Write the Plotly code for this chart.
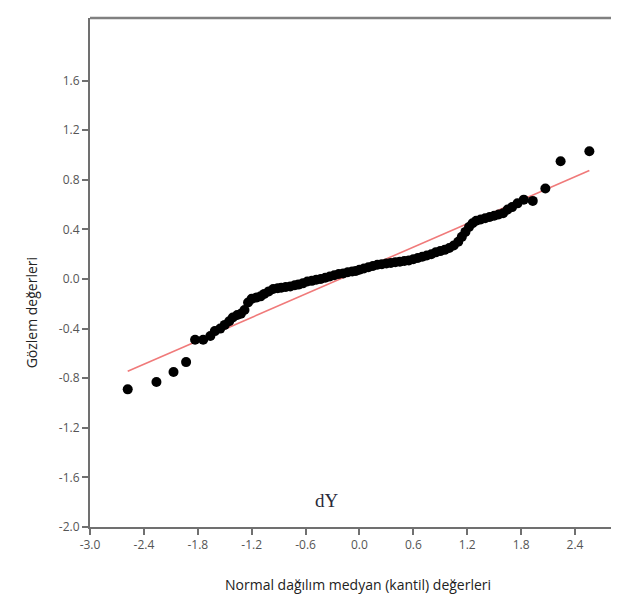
import plotly.graph_objects as go

# Probability plot of dY: normal median quantiles (x) vs observed values (y)
quantiles = [-2.58, -2.26, -2.07, -1.93, -1.83, -1.74, -1.66, -1.61, -1.55, -1.50,
             -1.45, -1.41, -1.36, -1.32, -1.28, -1.24, -1.20, -1.15, -1.10, -1.06,
             -1.01, -0.96, -0.91, -0.87, -0.82, -0.77, -0.72, -0.68, -0.63, -0.58,
             -0.53, -0.48, -0.43, -0.38, -0.33, -0.28, -0.23, -0.18, -0.13, -0.08,
             -0.04, 0.00, 0.05, 0.10, 0.15, 0.20, 0.25, 0.30, 0.35, 0.40,
             0.45, 0.50, 0.55, 0.60, 0.65, 0.70, 0.75, 0.80, 0.85, 0.90,
             0.95, 1.00, 1.05, 1.10, 1.14, 1.18, 1.22, 1.26, 1.30, 1.35,
             1.40, 1.45, 1.50, 1.55, 1.60, 1.65, 1.70, 1.76, 1.83, 1.93,
             2.07, 2.24, 2.56]
observed = [-0.89, -0.83, -0.75, -0.67, -0.49, -0.49, -0.46, -0.42, -0.40, -0.37,
            -0.34, -0.31, -0.29, -0.28, -0.25, -0.19, -0.16, -0.15, -0.14, -0.12,
            -0.10, -0.08, -0.075, -0.07, -0.065, -0.06, -0.05, -0.045, -0.035, -0.02,
            -0.015, -0.005, 0.00, 0.01, 0.02, 0.03, 0.04, 0.045, 0.055, 0.06,
            0.065, 0.075, 0.085, 0.095, 0.105, 0.115, 0.12, 0.125, 0.13, 0.135,
            0.14, 0.145, 0.15, 0.16, 0.17, 0.18, 0.19, 0.20, 0.215, 0.225,
            0.235, 0.25, 0.27, 0.30, 0.34, 0.38, 0.42, 0.45, 0.47, 0.48,
            0.49, 0.50, 0.51, 0.52, 0.53, 0.56, 0.58, 0.61, 0.64, 0.63,
            0.73, 0.95, 1.03]

# Fitted reference line parameters and its extent
fit_intercept = 0.068
fit_slope = 0.315
fit_x_extent = [-2.58, 2.56]

x_ticks = [-3.0, -2.4, -1.8, -1.2, -0.6, 0.0, 0.6, 1.2, 1.8, 2.4]
x_tick_labels = ["-3.0", "-2.4", "-1.8", "-1.2", "-0.6", "0.0", "0.6", "1.2", "1.8", "2.4"]
y_ticks = [-2.0, -1.6, -1.2, -0.8, -0.4, 0.0, 0.4, 0.8, 1.2, 1.6]
y_tick_labels = ["-2.0", "-1.6", "-1.2", "-0.8", "-0.4", "0.0", "0.4", "0.8", "1.2", "1.6"]

fit_y = [fit_intercept + fit_slope * v for v in fit_x_extent]

fig = go.Figure()
fig.add_trace(go.Scatter(
    x=fit_x_extent, y=fit_y, mode="lines",
    line=dict(color="#f07a7a", width=1.6), hoverinfo="skip", showlegend=False))
fig.add_trace(go.Scatter(
    x=quantiles, y=observed, mode="markers",
    marker=dict(color="black", size=10, line=dict(width=0)), showlegend=False))

tick_font = dict(family="Open Sans", size=12, color="#555555")
fig.update_layout(
    width=619, height=595,
    margin=dict(l=82, r=8, t=10, b=76),
    paper_bgcolor="white", plot_bgcolor="white",
    xaxis=dict(range=[-3.0, 2.89], tickvals=x_ticks, ticktext=x_tick_labels,
               showgrid=False, zeroline=False, showline=True, linecolor="#707070",
               linewidth=2, mirror=False, ticks="outside", ticklen=6, tickwidth=1.5,
               tickcolor="#707070", tickfont=tick_font),
    yaxis=dict(range=[-2.0, 2.105], tickvals=y_ticks, ticktext=y_tick_labels,
               showgrid=False, zeroline=False, showline=True, linecolor="#707070",
               linewidth=2, ticks="outside", ticklen=6, tickwidth=1.5,
               tickcolor="#707070", tickfont=tick_font),
    shapes=[
        dict(type="line", xref="paper", yref="paper", x0=0, x1=1.01, y0=1, y1=1,
             line=dict(color="#808080", width=2.5)),
        dict(type="line", xref="paper", yref="paper", x0=1, x1=1, y0=0, y1=1,
             line=dict(color="#e4e4e4", width=1)),
    ],
    annotations=[
        dict(text="dY", x=-0.36, y=-1.79, xref="x", yref="y", showarrow=False,
             font=dict(family="Liberation Serif", size=19, color="#2a2a3a")),
        dict(text="Gözlem değerleri", xref="paper", yref="paper", x=-0.133, y=0.42,
             textangle=-90, showarrow=False,
             font=dict(family="Open Sans", size=14, color="#222222")),
        dict(text="Normal dağılım medyan (kantil) değerleri", xref="paper", yref="paper",
             x=0.507, y=-0.135, showarrow=False,
             font=dict(family="Open Sans", size=14, color="#222222")),
    ],
)

fig.write_html("out.html")
